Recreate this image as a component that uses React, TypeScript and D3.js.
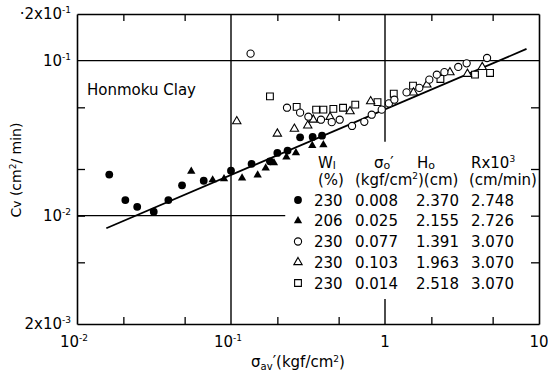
import * as d3 from 'd3';
import React, {useRef, useEffect} from 'react';

const width = 548;
const height = 376;
const margin = {left: 77, right: 9, top: 14, bottom: 52};

// sigma_av' (kgf/cm2) and cv (cm2/min)
const solidDotX = [0.0162, 0.0206, 0.0246, 0.0315, 0.0392, 0.0481, 0.0665, 0.100, 0.136, 0.179, 0.200, 0.233, 0.281, 0.339, 0.390];
const solidDotY = [0.0184, 0.0126, 0.0114, 0.0106, 0.0126, 0.0157, 0.0168, 0.0195, 0.0216, 0.0224, 0.0254, 0.0263, 0.0320, 0.0322, 0.0328];

const solidTriX = [0.0552, 0.0760, 0.0901, 0.118, 0.149, 0.168, 0.190, 0.229, 0.264, 0.337, 0.398];
const solidTriY = [0.0193, 0.0170, 0.0173, 0.0175, 0.0183, 0.0203, 0.0219, 0.0239, 0.0254, 0.0283, 0.0286];

const openDotX = [0.134, 0.231, 0.281, 0.318, 0.384, 0.451, 0.508, 0.611, 0.734, 0.820, 0.952, 1.06, 1.15, 1.38, 1.67, 1.94, 2.17, 2.43, 2.99, 3.39, 4.60];
const openDotY = [0.111, 0.0497, 0.0462, 0.0435, 0.0416, 0.0401, 0.0416, 0.0379, 0.0403, 0.0448, 0.0483, 0.0530, 0.0560, 0.0624, 0.0667, 0.0754, 0.0812, 0.0843, 0.0911, 0.0961, 0.104];

const openTriX = [0.109, 0.200, 0.258, 0.315, 0.342, 0.440, 0.593, 0.807, 1.53, 1.87, 2.64, 3.43, 4.28];
const openTriY = [0.0406, 0.0338, 0.0363, 0.0381, 0.0416, 0.0433, 0.0471, 0.0546, 0.0622, 0.0700, 0.0840, 0.0821, 0.0908];

const openSqX = [0.179, 0.267, 0.357, 0.398, 0.462, 0.534, 0.641, 0.894, 1.14, 1.52, 2.29, 3.84, 4.81];
const openSqY = [0.0588, 0.0503, 0.0483, 0.0483, 0.0489, 0.0497, 0.0520, 0.0540, 0.0612, 0.0690, 0.0762, 0.0812, 0.0833];

// fitted line end points
const fitX = [0.0155, 8.3];
const fitY = [0.0083, 0.119];

// legend table
const legendWl = ['230', '206', '230', '230', '230'];
const legendSigma = ['0.008', '0.025', '0.077', '0.103', '0.014'];
const legendHo = ['2.370', '2.155', '1.391', '1.963', '2.518'];
const legendR = ['2.748', '2.726', '3.070', '3.070', '3.070'];

const xMinorTicks = [0.02, 0.05, 0.2, 0.5, 2, 5];
const yMinorTicks = [0.005, 0.01, 0.02, 0.05];

const FONT = 'DejaVu Sans';

type Kind = 'solidDot' | 'solidTri' | 'openDot' | 'openTri' | 'openSq';

const App = () => {
  const ref = useRef<SVGSVGElement>(null);

  useEffect(() => {
    const svg = d3.select(ref.current);
    svg.selectAll('*').remove();

    const x = d3.scaleLog().domain([0.01, 10]).range([margin.left, width - margin.right]);
    const y = d3.scaleLog().domain([0.002, 0.2]).range([height - margin.bottom, margin.top]);

    const g = svg.append('g');

    // minor ticks, pointing into the plot
    const styleAxis = (sel: any) => {
      sel.selectAll('path').attr('stroke', '#000').attr('stroke-width', 1.6);
      sel.selectAll('line').attr('stroke', '#000').attr('stroke-width', 1.3);
      sel.selectAll('text').remove();
    };
    g.append('g').attr('transform', `translate(0,${y(0.002)})`)
      .call(d3.axisBottom(x).tickValues(xMinorTicks).tickSize(-7).tickSizeOuter(0).tickFormat(() => ''))
      .call(styleAxis);
    g.append('g').attr('transform', `translate(0,${y(0.2)})`)
      .call(d3.axisTop(x).tickValues(xMinorTicks).tickSize(-7).tickSizeOuter(0).tickFormat(() => ''))
      .call(styleAxis);
    g.append('g').attr('transform', `translate(${x(0.01)},0)`)
      .call(d3.axisLeft(y).tickValues(yMinorTicks).tickSize(-8).tickSizeOuter(0).tickFormat(() => ''))
      .call(styleAxis);
    g.append('g').attr('transform', `translate(${x(10)},0)`)
      .call(d3.axisRight(y).tickValues(yMinorTicks).tickSize(-8).tickSizeOuter(0).tickFormat(() => ''))
      .call(styleAxis);

    // grid lines (some broken by the legend)
    const grid: [number, number, number, number][] = [
      [0.01, 0.1, 10, 0.1],
      [0.01, 0.01, 0.225, 0.01],
      [0.1, 0.002, 0.1, 0.2],
      [1, 0.2, 1, 0.030],
      [1, 0.002, 1, 0.0029],
    ];
    g.selectAll('.grid').data(grid).enter().append('line')
      .attr('x1', d => x(d[0])).attr('y1', d => y(d[1]))
      .attr('x2', d => x(d[2])).attr('y2', d => y(d[3]))
      .attr('stroke', '#000').attr('stroke-width', 1.4);

    // fitted line
    const line = d3.line<number>().x((_, i) => x(fitX[i])).y(d => y(d));
    g.append('path').attr('d', line(fitY) as string)
      .attr('fill', 'none').attr('stroke', '#000').attr('stroke-width', 1.8);

    const tri = d3.symbol().type(d3.symbolTriangle).size(30);
    const sq = d3.symbol().type(d3.symbolSquare).size(46);

    const drawMark = (sel: any, kind: Kind) => {
      if (kind === 'solidDot') {
        sel.append('circle').attr('r', 3.9).attr('fill', '#000');
      } else if (kind === 'openDot') {
        sel.append('circle').attr('r', 3.6).attr('fill', '#fff').attr('stroke', '#000').attr('stroke-width', 1.1);
      } else if (kind === 'solidTri') {
        sel.append('path').attr('d', tri()).attr('fill', '#000');
      } else if (kind === 'openTri') {
        sel.append('path').attr('d', tri()).attr('fill', '#fff').attr('stroke', '#000').attr('stroke-width', 1.1);
      } else {
        sel.append('path').attr('d', sq()).attr('fill', '#fff').attr('stroke', '#000').attr('stroke-width', 1.1);
      }
    };

    const series: [Kind, number[], number[]][] = [
      ['openSq', openSqX, openSqY],
      ['openTri', openTriX, openTriY],
      ['openDot', openDotX, openDotY],
      ['solidTri', solidTriX, solidTriY],
      ['solidDot', solidDotX, solidDotY],
    ];
    series.forEach(([kind, xs, ys]) => {
      const pts = g.append('g').selectAll('g').data(xs.map((v, i) => [v, ys[i]])).enter().append('g')
        .attr('transform', d => `translate(${x(d[0])},${y(d[1])})`);
      drawMark(pts, kind);
    });

    const txt = (px: number, py: number, anchor = 'start', size = 15) =>
      svg.append('text').attr('x', px).attr('y', py).attr('text-anchor', anchor)
        .attr('font-family', FONT).attr('font-size', size).attr('fill', '#000');

    // y tick labels
    const yLab = (v: number, pre: string, exp: string) => {
      const t = txt(71, y(v) + 5, 'end', 15);
      t.append('tspan').text(pre + '10');
      t.append('tspan').attr('dy', -6).attr('font-size', 9).text(exp);
    };
    yLab(0.2, '·2x', '-1');
    yLab(0.1, '', '-1');
    yLab(0.01, '', '-2');
    yLab(0.002, '2x', '-3');

    // x tick labels
    const xLab = (v: number, exp: string) => {
      const t = txt(x(v) + (exp ? -3 : 0), 347, 'middle', 15);
      t.append('tspan').text(v === 1 ? '1' : '10');
      if (exp) t.append('tspan').attr('dy', -6).attr('font-size', 9).text(exp);
    };
    xLab(0.01, '-2');
    xLab(0.1, '-1');
    xLab(1, '');
    xLab(10, '');

    // axis titles
    const xt = txt(298, 367, 'middle', 15);
    xt.append('tspan').text('σ');
    xt.append('tspan').attr('font-size', 10).attr('dy', 3).text('av');
    xt.append('tspan').attr('dy', -3).text('\u2032(kgf/cm');
    xt.append('tspan').attr('dy', -5).attr('font-size', 9).text('2');
    xt.append('tspan').attr('dy', 5).text(')');

    const yt = svg.append('text').attr('transform', `translate(21,170) rotate(-90)`)
      .attr('text-anchor', 'middle').attr('font-family', FONT).attr('font-size', 14).attr('fill', '#000');
    yt.append('tspan').text('C');
    yt.append('tspan').attr('font-size', 12).text('v');
    yt.append('tspan').text(' (cm');
    yt.append('tspan').attr('dy', -5).attr('font-size', 9).text('2');
    yt.append('tspan').attr('dy', 5).text('/ min)');

    txt(87, 95, 'start', 15).text('Honmoku Clay');

    // legend table
    const h1 = 168, h2 = 185;
    const wl = txt(318, h1);
    wl.append('tspan').text('W');
    wl.append('tspan').attr('font-size', 11).attr('dy', 1).text('l');
    txt(318, h2).text('(%)');
    const so = txt(374, h1);
    so.append('tspan').text('σ');
    so.append('tspan').attr('font-size', 11).attr('dy', 1).text('o');
    so.append('tspan').attr('dy', -1).text('\u2032');
    const kg = txt(355, h2);
    kg.append('tspan').text('(kgf/cm');
    kg.append('tspan').attr('dy', -6).attr('font-size', 9).text('2');
    kg.append('tspan').attr('dy', 6).text(')(cm)');
    const ho = txt(417, h1);
    ho.append('tspan').text('H');
    ho.append('tspan').attr('font-size', 11).attr('dy', 1).text('o');
    const rx = txt(471, h1);
    rx.append('tspan').text('Rx10');
    rx.append('tspan').attr('dy', -6).attr('font-size', 9).text('3');
    txt(469, h2).text('(cm/min)');

    const kinds: Kind[] = ['solidDot', 'solidTri', 'openDot', 'openTri', 'openSq'];
    const rowY = d3.scaleLinear().domain([0, 4]).range([200, 283]);
    legendWl.forEach((w, i) => {
      const cy = rowY(i);
      const mk = svg.append('g').attr('transform', `translate(298,${cy})`);
      drawMark(mk, kinds[i]);
      txt(314, cy + 5.5).text(w);
      txt(355, cy + 5.5).text(legendSigma[i]);
      txt(416, cy + 5.5).text(legendHo[i]);
      txt(471, cy + 5.5).text(legendR[i]);
    });
  }, []);

  return (
    <svg ref={ref} width={width} height={height}
      style={{position: 'absolute', left: 0, top: 0, background: '#fff'}} />
  );
};

export default App;
